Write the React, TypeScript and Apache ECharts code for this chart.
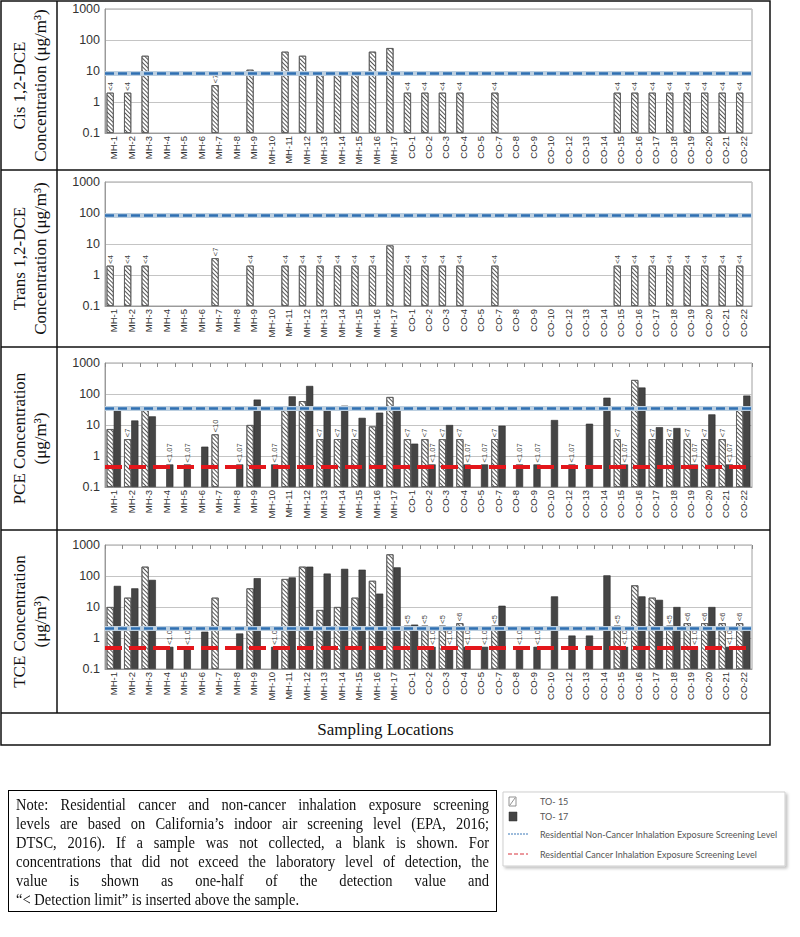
import React, { useEffect, useRef } from 'react';
import * as echarts from 'echarts';

// ---------------- DATA ----------------
const categories = [
  'MH-1', 'MH-2', 'MH-3', 'MH-4', 'MH-5', 'MH-6', 'MH-7', 'MH-8', 'MH-9', 'MH-10',
  'MH-11', 'MH-12', 'MH-13', 'MH-14', 'MH-15', 'MH-16', 'MH-17',
  'CO-1', 'CO-2', 'CO-3', 'CO-4', 'CO-5', 'CO-7', 'CO-8', 'CO-9', 'CO-10',
  'CO-12', 'CO-13', 'CO-14', 'CO-15', 'CO-16', 'CO-17', 'CO-18', 'CO-19', 'CO-20', 'CO-21', 'CO-22',
];

const yTickLabels = ['0.1', '1', '10', '100', '1000'];

// Cis 1,2-DCE (TO-15 only)
const cisTo15 = [2, 2, 31, null, null, null, 3.5, null, 11, null, 42, 31, 9.5, 9.5, 8.5, 42, 55,
  2, 2, 2, 2, null, 2, null, null, null, null, null, null, 2, 2, 2, 2, 2, 2, 2, 2];
const cisTo15Labels = ['<4', '<4', '', '', '', '', '<7', '', '', '', '', '', '', '', '', '', '',
  '<4', '<4', '<4', '<4', '', '<4', '', '', '', '', '', '', '<4', '<4', '<4', '<4', '<4', '<4', '<4', '<4'];
const cisTo17: (number | null)[] = [];
const cisTo17Labels: string[] = [];

// Trans 1,2-DCE (TO-15 only)
const transTo15 = [2, 2, 2, null, null, null, 3.5, null, 2, null, 2, 2, 2, 2, 2, 2, 9,
  2, 2, 2, 2, null, 2, null, null, null, null, null, null, 2, 2, 2, 2, 2, 2, 2, 2];
const transTo15Labels = ['<4', '<4', '<4', '', '', '', '<7', '', '<4', '', '<4', '<4', '<4', '<4', '<4', '<4', '',
  '<4', '<4', '<4', '<4', '', '<4', '', '', '', '', '', '', '<4', '<4', '<4', '<4', '<4', '<4', '<4', '<4'];
const transTo17: (number | null)[] = [];
const transTo17Labels: string[] = [];

// PCE
const pceTo15 = [7.4, 3.5, 31, null, null, null, 5, null, 10, null, 30, 59, 3.5, 3.5, 3.5, 9, 80,
  3.5, 3.5, 3.5, 3.5, null, 3.5, null, null, null, null, null, null, 3.5, 284, 3.5, 3.5, 3.5, 3.5, 3.5, 31];
const pceTo15Labels = ['', '<7', '', '', '', '', '<10', '', '', '', '', '', '<7', '<7', '<7', '', '',
  '<7', '<7', '<7', '<7', '', '<7', '', '', '', '', '', '', '<7', '', '<7', '<7', '<7', '<7', '<7', ''];
const pceTo17 = [33, 14, 19, 0.535, 0.535, 2, null, 0.535, 66, 0.535, 84, 182, 30, 42, 17, 25, 40,
  2.5, 0.535, 10, 0.535, 0.535, 9.5, 0.535, 0.535, 14.5, 0.535, 11, 76, 0.535, 162, 8.5, 8, 0.535, 22, 0.535, 89];
const pceTo17Labels = ['', '', '', '<1.07', '<1.07', '', '', '<1.07', '', '<1.07', '', '', '', '', '', '', '',
  '', '<1.07', '', '<1.07', '<1.07', '', '<1.07', '<1.07', '', '<1.07', '', '', '<1.07', '', '', '', '<1.07', '', '<1.07', ''];

// TCE
const tceTo15 = [10, 20, 200, null, null, null, 20, null, 40, null, 80, 200, 8, 10, 20, 70, 500,
  2.5, 2.5, 2.5, 3, null, 2.5, null, null, null, null, null, null, 2.5, 50, 20, 2.5, 3, 3, 3, 3];
const tceTo15Labels = ['', '', '', '', '', '', '', '', '', '', '', '', '', '', '', '', '',
  '<5', '<5', '<5', '<6', '', '<5', '', '', '', '', '', '', '<5', '', '', '<5', '<6', '<6', '<6', '<6'];
const tceTo17 = [48, 40, 75, 0.52, 0.52, 1.6, null, 1.4, 85, 0.52, 90, 200, 120, 170, 160, 27, 190,
  2.7, 0.52, 0.52, 0.52, 0.52, 11, 0.52, 0.52, 22, 1.2, 1.2, 105, 0.52, 22, 17, 10, 0.52, 10, 0.52, 2.3];
const tceTo17Labels = ['', '', '', '<1.04', '<1.04', '', '', '', '', '<1.04', '', '', '', '', '', '', '',
  '', '<1.04', '<1.04', '<1.04', '<1.04', '', '<1.04', '<1.04', '', '', '', '', '<1.04', '', '', '', '<1.04', '', '<1.04', ''];

// Screening levels (μg/m³)
const nonCancerLevels = [8.3, 83, 35, 2.0];
const cancerLevels: (number | null)[] = [null, null, 0.46, 0.48];

const panelTitles = [
  ['Cis 1,2-DCE', 'Concentration (μg/m³)'],
  ['Trans 1,2-DCE', 'Concentration (μg/m³)'],
  ['PCE Concentration', '(μg/m³)'],
  ['TCE Concentration', '(μg/m³)'],
];

const seriesNames = ['TO- 15', 'TO- 17'];
const legendLineNames = [
  'Residential Non-Cancer Inhalation Exposure Screening Level',
  'Residential Cancer Inhalation Exposure Screening Level',
];
const xAxisTitle = 'Sampling Locations';

const noteLines = [
  'Note: Residential cancer and non-cancer inhalation exposure screening',
  'levels are based on California’s indoor air screening level (EPA, 2016;',
  'DTSC, 2016). If a sample was not collected, a blank is shown. For',
  'concentrations that did not exceed the laboratory level of detection, the',
  'value is shown as one-half of the detection value and',
  '“< Detection limit” is inserted above the sample.',
];

// ---------------- LAYOUT ----------------
const SANS = '"Liberation Sans", Arial, sans-serif';
const SERIF = '"Liberation Serif", "Times New Roman", serif';
const LEGEND_FONT = 'Lato, "Open Sans", sans-serif';

const gridTops = [9, 182, 363, 545];
const gridHeight = 124;
const gridLeft = 105;
const gridRight = 48;
const panelBounds = [[1, 170], [170, 347], [347, 530], [530, 713]];
const frameRight = 770;
const frameBottom = 745;
const titleColX = 57;
const topTickPanels = [false, false, true, true];

const panels = [
  { to15: cisTo15, l15: cisTo15Labels, to17: cisTo17, l17: cisTo17Labels },
  { to15: transTo15, l15: transTo15Labels, to17: transTo17, l17: transTo17Labels },
  { to15: pceTo15, l15: pceTo15Labels, to17: pceTo17, l17: pceTo17Labels },
  { to15: tceTo15, l15: tceTo15Labels, to17: tceTo17, l17: tceTo17Labels },
];

function toData(values: (number | null)[], labels: string[]) {
  return values.map((v, i) => {
    if (v == null) return null;
    if (labels[i]) return { value: v, label: { show: true, formatter: labels[i] } };
    return v;
  });
}

const hatchDecal = {
  symbol: 'rect',
  symbolSize: 1,
  dashArrayX: [1, 0],
  dashArrayY: [1, 2],
  rotation: Math.PI / 4,
  color: '#555555',
  backgroundColor: '#ffffff',
};

function buildOption() {
  const grid: any[] = [];
  const xAxis: any[] = [];
  const yAxis: any[] = [];
  const series: any[] = [];
  const graphic: any[] = [];

  panels.forEach((p, i) => {
    grid.push({
      left: gridLeft, right: gridRight, top: gridTops[i], height: gridHeight,
      show: true, borderColor: '#a0a0a0', borderWidth: 1, backgroundColor: 'transparent',
    });
    const xi = xAxis.length;
    xAxis.push({
      type: 'category', gridIndex: i, data: categories, position: 'bottom',
      axisLine: { show: true, lineStyle: { color: '#9a9a9a' } },
      axisTick: { show: false },
      axisLabel: { interval: 0, rotate: 90, fontSize: 9.5, fontFamily: SANS, color: '#333', margin: 3 },
      splitLine: { show: false },
    });
    if (topTickPanels[i]) {
      xAxis.push({
        type: 'category', gridIndex: i, data: categories, position: 'top',
        axisLine: { show: false },
        axisTick: { show: true, inside: true, length: 4, interval: 0, lineStyle: { color: '#888' } },
        axisLabel: { show: false },
        splitLine: { show: false },
      });
    }
    yAxis.push({
      type: 'log', logBase: 10, gridIndex: i, min: 0.1, max: 1000, startValue: 0.1,
      axisLine: { show: true, lineStyle: { color: '#9a9a9a' } },
      axisTick: { show: false },
      axisLabel: {
        fontSize: 12.5, fontFamily: SANS, color: '#333', margin: 5,
        formatter: (v: number) => yTickLabels[Math.round(Math.log10(v)) + 1] ?? String(v),
      },
      splitLine: { show: true, lineStyle: { color: '#c4c4c4', width: 1 } },
    });

    const labelBase = {
      show: false, position: 'top', rotate: 90, align: 'left', verticalAlign: 'middle',
      distance: 2, fontSize: 7.5, fontFamily: SANS, color: '#444',
    };

    const mlData: any[] = [
      { yAxis: nonCancerLevels[i], lineStyle: { color: '#bccfe0', width: 5, type: 'solid' } },
      { yAxis: nonCancerLevels[i], lineStyle: { color: '#2f70b2', width: 2.5, type: [9, 4] } },
    ];
    const cancer = cancerLevels[i];
    if (cancer != null) {
      mlData.push({ yAxis: cancer, lineStyle: { color: '#e3161b', width: 4, type: [17, 7] } });
    }

    series.push({
      name: seriesNames[0], type: 'bar', xAxisIndex: xi, yAxisIndex: i,
      data: toData(p.to15, p.l15),
      barGap: '0%', barCategoryGap: '18%',
      itemStyle: { color: '#ffffff', borderColor: '#5a5a5a', borderWidth: 0.8, decal: hatchDecal },
      label: labelBase,
      z: 2,
    });
    series.push({
      name: seriesNames[1], type: 'bar', xAxisIndex: xi, yAxisIndex: i,
      data: toData(p.to17, p.l17),
      barGap: '0%', barCategoryGap: '18%',
      itemStyle: { color: '#454545', borderColor: '#2a2a2a', borderWidth: 0.6 },
      label: labelBase,
      z: 2,
      markLine: {
        silent: true, symbol: 'none', animation: false,
        label: { show: false },
        data: mlData,
      },
    });

    // panel titles
    const [y0, y1] = panelBounds[i];
    graphic.push({
      type: 'text', x: titleColX / 2 + 1, y: (y0 + y1) / 2, rotation: Math.PI / 2,
      style: {
        text: panelTitles[i].join('\n'), align: 'center', verticalAlign: 'middle',
        font: `17px ${SERIF}`, lineHeight: 21, fill: '#111',
      },
    });
  });

  // frame
  graphic.push({
    type: 'rect', shape: { x: 1, y: 1, width: frameRight - 1, height: frameBottom - 1 },
    style: { fill: 'none', stroke: '#111', lineWidth: 1.5 }, z: 10,
  });
  panelBounds.forEach(([, y1]) => {
    graphic.push({ type: 'line', shape: { x1: 1, y1, x2: frameRight, y2: y1 }, style: { stroke: '#111', lineWidth: 1.5 }, z: 10 });
  });
  graphic.push({ type: 'line', shape: { x1: titleColX, y1: 1, x2: titleColX, y2: panelBounds[3][1] }, style: { stroke: '#111', lineWidth: 1.5 }, z: 10 });
  graphic.push({
    type: 'text', x: (frameRight + 1) / 2, y: (panelBounds[3][1] + frameBottom) / 2,
    style: { text: xAxisTitle, align: 'center', verticalAlign: 'middle', font: `17px ${SERIF}`, fill: '#111' },
  });

  // legend box
  const lx = 503, ly = 792;
  graphic.push({
    type: 'rect', shape: { x: lx, y: ly, width: 282, height: 74 },
    style: { fill: '#fff', stroke: '#cfcfcf', lineWidth: 1, shadowBlur: 3, shadowOffsetX: 2, shadowOffsetY: 2, shadowColor: 'rgba(0,0,0,0.25)' },
  });
  graphic.push({ type: 'rect', shape: { x: lx + 6, y: ly + 5, width: 7, height: 9 }, style: { fill: '#fff', stroke: '#777', lineWidth: 0.8 } });
  graphic.push({ type: 'line', shape: { x1: lx + 7, y1: ly + 13, x2: lx + 12, y2: ly + 6 }, style: { stroke: '#777', lineWidth: 0.8 } });
  graphic.push({ type: 'rect', shape: { x: lx + 6, y: ly + 20, width: 8, height: 9 }, style: { fill: '#444', stroke: '#333', lineWidth: 0.5 } });
  graphic.push({ type: 'line', shape: { x1: lx + 5, y1: ly + 42, x2: lx + 25, y2: ly + 42 }, style: { stroke: '#3a78b8', lineWidth: 1, lineDash: [2, 1] } });
  graphic.push({ type: 'line', shape: { x1: lx + 5, y1: ly + 62, x2: lx + 25, y2: ly + 62 }, style: { stroke: '#d8323a', lineWidth: 1, lineDash: [4, 2] } });
  const legendTexts = [seriesNames[0], seriesNames[1], legendLineNames[0], legendLineNames[1]];
  const legendYs = [ly + 9, ly + 24, ly + 42, ly + 62];
  legendTexts.forEach((t, k) => {
    graphic.push({
      type: 'text', x: lx + 37, y: legendYs[k],
      style: { text: t, align: 'left', verticalAlign: 'middle', font: `9px ${LEGEND_FONT}`, fill: '#555' },
    });
  });

  return {
    animation: false,
    backgroundColor: '#ffffff',
    grid, xAxis, yAxis, series, graphic,
  };
}

const NOTE_SCALE = 0.88;
const NOTE_INNER = 473;

export default function App() {
  const ref = useRef<HTMLDivElement>(null);
  useEffect(() => {
    if (!ref.current) return;
    const chart = echarts.init(ref.current, undefined, { renderer: 'svg' });
    chart.setOption(buildOption() as any);
    return () => chart.dispose();
  }, []);
  return (
    <div style={{ position: 'absolute', left: 0, top: 0, width: 800, height: 937, background: '#fff' }}>
      <div ref={ref} style={{ position: 'absolute', left: 0, top: 0, width: 800, height: 937 }} />
      <div
        style={{
          position: 'absolute', left: 8, top: 790, width: 489, height: 122, boxSizing: 'border-box',
          border: '1px solid #000', padding: '4px 7px', fontFamily: SERIF, fontSize: 16.5, lineHeight: '19px',
          color: '#111', background: '#fff', overflow: 'hidden',
        }}
      >
        {noteLines.map((line, i) => {
          const last = i === noteLines.length - 1;
          return (
            <div
              key={i}
              style={{
                whiteSpace: 'nowrap',
                width: NOTE_INNER / NOTE_SCALE,
                transform: `scaleX(${NOTE_SCALE})`,
                transformOrigin: 'left top',
                textAlign: last ? 'left' : 'justify',
                textAlignLast: last ? 'left' : 'justify',
              } as React.CSSProperties}
            >
              {line}
            </div>
          );
        })}
      </div>
    </div>
  );
}
